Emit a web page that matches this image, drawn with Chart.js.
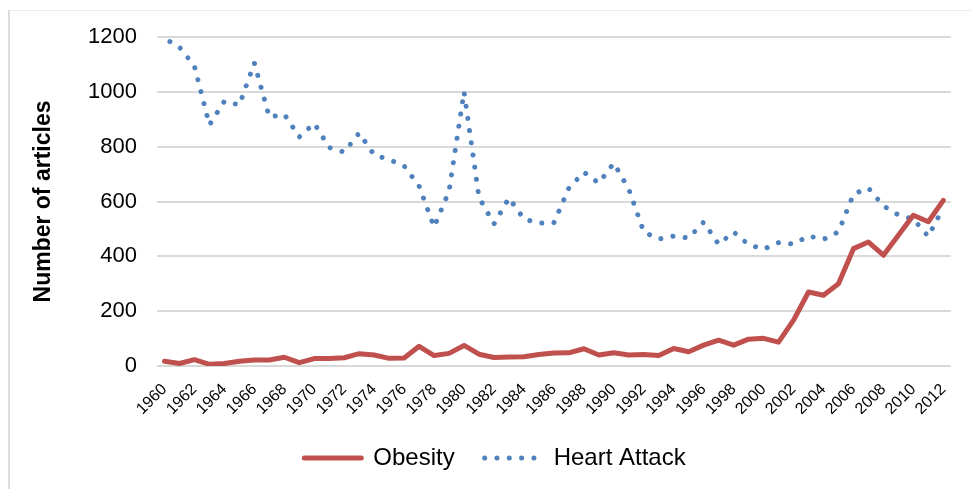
<!DOCTYPE html>
<html>
<head>
<meta charset="utf-8">
<script src="https://cdn.jsdelivr.net/npm/chart.js@4/dist/chart.umd.min.js"></script>
<style>
  html, body { margin: 0; padding: 0; background: #ffffff; }
  #wrap { position: relative; width: 971px; height: 489px; overflow: hidden; }
  #frame { position: absolute; left: 8px; top: 10px; width: 1000px; height: 600px;
           border-left: 2px solid #dcdcdc; border-top: 1px solid #ececec; box-sizing: border-box; }
  canvas { position: absolute; left: 0; top: 0; }
</style>
</head>
<body>
<div id="wrap">
  <div id="frame"></div>
  <canvas id="c" width="971" height="489"></canvas>
</div>
<script>
const categories = ['1960','1961','1962','1963','1964','1965','1966','1967','1968','1969',
  '1970','1971','1972','1973','1974','1975','1976','1977','1978','1979',
  '1980','1981','1982','1983','1984','1985','1986','1987','1988','1989',
  '1990','1991','1992','1993','1994','1995','1996','1997','1998','1999',
  '2000','2001','2002','2003','2004','2005','2006','2007','2008','2009',
  '2010','2011','2012'];

const obesity = [17, 9, 23, 6, 9, 17, 22, 22, 32, 12,
  27, 27, 30, 45, 40, 28, 29, 72, 38, 46,
  75, 43, 31, 33, 34, 42, 47, 48, 63, 40,
  48, 40, 42, 38, 64, 52, 76, 94, 76, 98,
  101, 87, 167, 270, 258, 300, 428, 452, 404, 477,
  550, 526, 604];

const heartAttack = [1195, 1163, 1094, 879, 966, 952, 1105, 908, 918, 835,
  885, 797, 780, 850, 770, 753, 730, 656, 507, 638,
  1000, 615, 518, 613, 536, 521, 523, 649, 707, 667,
  740, 645, 489, 463, 474, 467, 525, 444, 489, 443,
  426, 450, 445, 474, 462, 489, 627, 649, 584, 551,
  536, 472, 578];

const yTicks = [0, 200, 400, 600, 800, 1000, 1200];
const seriesNames = ['Obesity', 'Heart Attack'];
const yTitle = 'Number of articles';

const FONT = "'Liberation Sans', Arial, sans-serif";
const RED = '#C0504D';
const BLUE = '#4F81BD';

new Chart(document.getElementById('c'), {
  type: 'line',
  data: {
    labels: categories,
    datasets: [
      {
        label: seriesNames[0],
        data: obesity,
        borderColor: RED,
        backgroundColor: RED,
        borderWidth: 5,
        borderCapStyle: 'round',
        borderJoinStyle: 'round',
        pointRadius: 0,
        pointStyle: 'line',
        tension: 0,
        fill: false
      },
      {
        label: seriesNames[1],
        data: heartAttack,
        borderColor: BLUE,
        backgroundColor: BLUE,
        borderWidth: 5,
        borderDash: [0.01, 12.3],
        borderDashOffset: 6,
        borderCapStyle: 'round',
        borderJoinStyle: 'round',
        pointRadius: 0,
        pointStyle: 'line',
        tension: 0,
        fill: false
      }
    ]
  },
  options: {
    responsive: false,
    devicePixelRatio: 1,
    animation: false,
    layout: { padding: { top: 37, left: 30, right: 11, bottom: 9 } },
    plugins: {
      tooltip: { enabled: false },
      legend: {
        position: 'bottom',
        labels: {
          font: { family: FONT, size: 24 },
          color: '#000000',
          usePointStyle: true,
          pointStyleWidth: 57,
          padding: 30,
          generateLabels: (chart) => chart.data.datasets.map((ds, i) => ({
            text: ds.label,
            fillStyle: ds.borderColor,
            strokeStyle: ds.borderColor,
            lineWidth: 5,
            lineCap: 'round',
            lineDash: ds.borderDash || [],
            lineDashOffset: 0,
            lineJoin: 'round',
            pointStyle: 'line',
            fontColor: '#000000',
            hidden: false,
            datasetIndex: i
          }))
        }
      }
    },
    scales: {
      x: {
        type: 'category',
        offset: true,
        afterFit: (scale) => { scale.height = 50; },
        grid: { display: false, drawTicks: false },
        border: { display: false },
        ticks: {
          autoSkip: false,
          minRotation: 45,
          maxRotation: 45,
          padding: 14,
          color: '#000000',
          font: { family: FONT, size: 16 },
          callback: function (value, index) {
            return index % 2 === 0 ? categories[index] : '';
          }
        }
      },
      y: {
        min: yTicks[0],
        max: yTicks[yTicks.length - 1],
        afterFit: (scale) => { scale.width = 127; },
        afterBuildTicks: (scale) => { scale.ticks = yTicks.map(v => ({ value: v })); },
        grid: { color: '#d9d9d9', lineWidth: 2, drawTicks: false },
        border: { display: false },
        ticks: {
          padding: 20,
          color: '#000000',
          font: { family: FONT, size: 22 },
          callback: (value) => String(value)
        },
        title: {
          display: true,
          text: yTitle,
          color: '#000000',
          font: { family: FONT, size: 23, weight: 'bold' },
          padding: { top: 0, bottom: 0 }
        }
      }
    }
  }
});
</script>
</body>
</html>
